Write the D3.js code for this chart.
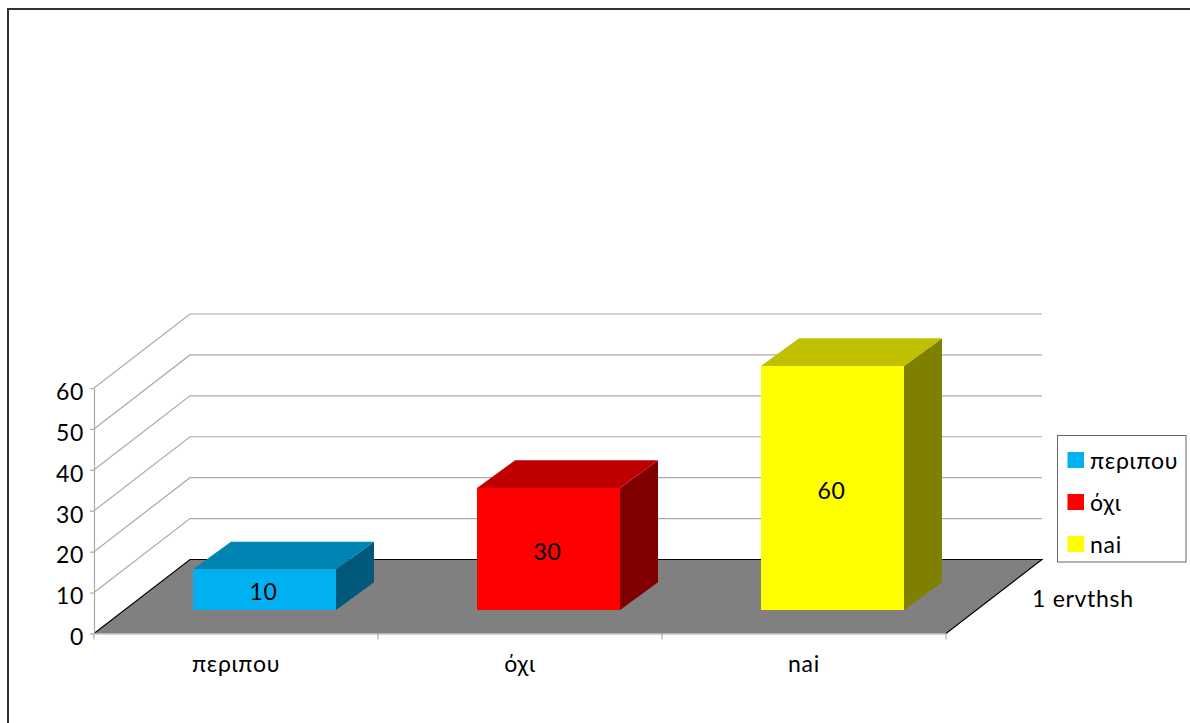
<!DOCTYPE html>
<html lang="el">
<head>
<meta charset="utf-8">
<script src="https://cdn.jsdelivr.net/npm/d3@7"></script>
<style>
html,body{margin:0;padding:0;background:#fff;overflow:hidden}
svg{display:block}
text{font-family:Lato,"Open Sans",sans-serif;fill:#000;letter-spacing:.7px}
</style>
</head>
<body>
<script>
const categories = ["περιπου", "όχι", "nai"];
const values = [10, 30, 60];
const faceColors = ["#00b0f0", "#ff0000", "#ffff00"];
const topColors = ["#0084b4", "#c00000", "#c0c000"];
const sideColors = ["#00587a", "#800000", "#808000"];
const yTicks = [0, 10, 20, 30, 40, 50, 60];
const depthLabel = "1 ervthsh";

const W = 1190, H = 723;
const x0 = 94, x1 = 946, y0 = 633.5, y60 = 388;
const backDx = 96, backDy = -74;      // floor depth
const barDx = 38, barDy = -27.7;      // bar depth
const inDx = 31;                      // bar inset from the front edge
const FS = 23;

const svg = d3.select("body").append("svg").attr("width", W).attr("height", H);
const x = d3.scaleBand().domain(categories).range([x0, x1]).paddingInner(0).paddingOuter(0);
const y = d3.scaleLinear().domain([0, 60]).range([y0, y60]);
// bars stand further back in the box, so perspective makes them a touch shorter
const yBar = d3.scaleLinear().domain([0, 60]).range([610, 366]);
const barW = 143;
const barX = c => x(c) + (x.bandwidth() - barW) / 2 - 2.5 + inDx;
const pts = a => a.map(p => p.join(",")).join(" ");

// frame
svg.append("path").attr("d", `M8,${H}V9H${W}`).attr("fill", "none").attr("stroke", "#333").attr("stroke-width", 2);

// grid lines (side wall + back wall)
svg.append("g").selectAll("polyline").data(yTicks.slice(1)).join("polyline")
  .attr("points", d => pts([[x0, y(d)], [x0 + backDx, y(d) + backDy], [x1 + backDx, y(d) + backDy]]))
  .attr("fill", "none").attr("stroke", "#aaa").attr("stroke-width", 1.2);

// floor
svg.append("polygon")
  .attr("points", pts([[x0, y0], [x0 + backDx, y0 + backDy], [x1 + backDx, y0 + backDy], [x1, y0]]))
  .attr("fill", "#808080");
svg.append("path")
  .attr("d", `M${x0},${y0}L${x0 + backDx},${y0 + backDy}H${x1 + backDx}L${x1},${y0}`)
  .attr("fill", "none").attr("stroke", "#000").attr("stroke-width", 1.1);

// axes
const yAxis = svg.append("g").attr("transform", `translate(${x0},0)`)
  .call(d3.axisLeft(y).tickValues(yTicks).tickSize(4).tickPadding(6).tickSizeOuter(0));
const xAxis = svg.append("g").attr("transform", `translate(0,${y0})`)
  .call(d3.axisBottom(x).tickSize(0).tickPadding(22));
[yAxis, xAxis].forEach(a => {
  a.selectAll("path,line").attr("stroke", "#aaa").attr("stroke-width", 1.2);
  a.selectAll("text").attr("font-size", FS).attr("font-family", "Lato").attr("fill", "#000");
});
yAxis.selectAll(".tick text").attr("dy", "0.49em");
xAxis.selectAll(".tick text").attr("dy", "0.71em");
// category separators
svg.append("g").selectAll("line").data(d3.range(categories.length + 1)).join("line")
  .attr("x1", i => x0 + i * x.bandwidth()).attr("x2", i => x0 + i * x.bandwidth())
  .attr("y1", y0).attr("y2", y0 + 6).attr("stroke", "#aaa").attr("stroke-width", 1.2);

// bars
const bars = svg.append("g").selectAll("g").data(categories).join("g");
bars.append("polygon").attr("fill", (c, i) => sideColors[i])
  .attr("points", (c, i) => {
    const r = barX(c) + barW, b = yBar(0), t = yBar(values[i]);
    return pts([[r, b], [r + barDx, b + barDy], [r + barDx, t + barDy], [r, t]]);
  });
bars.append("polygon").attr("fill", (c, i) => topColors[i])
  .attr("points", (c, i) => {
    const l = barX(c), t = yBar(values[i]);
    return pts([[l, t], [l + barDx, t + barDy], [l + barW + barDx, t + barDy], [l + barW, t]]);
  });
bars.append("rect").attr("fill", (c, i) => faceColors[i])
  .attr("x", c => barX(c)).attr("width", barW)
  .attr("y", (c, i) => yBar(values[i]))
  .attr("height", (c, i) => yBar(0) - yBar(values[i]));
bars.append("text").attr("font-size", FS).attr("text-anchor", "middle")
  .attr("x", c => barX(c) + barW / 2 - 1)
  .attr("y", (c, i) => (yBar(0) + yBar(values[i])) / 2 + 10.5)
  .text((c, i) => values[i]);

// depth axis label
svg.append("text").attr("x", 1032).attr("y", 606.5).attr("font-size", FS).text(depthLabel);

// legend
svg.append("rect").attr("x", 1057.5).attr("y", 435.5).attr("width", 128.5).attr("height", 126.5)
  .attr("fill", "#fff").attr("stroke", "#666").attr("stroke-width", 1);
const leg = svg.append("g").selectAll("g").data(categories).join("g")
  .attr("transform", (c, i) => `translate(0,${452 + i * 42})`);
leg.append("rect").attr("x", 1067.5).attr("width", 16.5).attr("height", 16).attr("fill", (c, i) => faceColors[i]);
leg.append("text").attr("x", 1090).attr("y", 17).attr("font-size", FS).text(c => c);
</script>
</body>
</html>
